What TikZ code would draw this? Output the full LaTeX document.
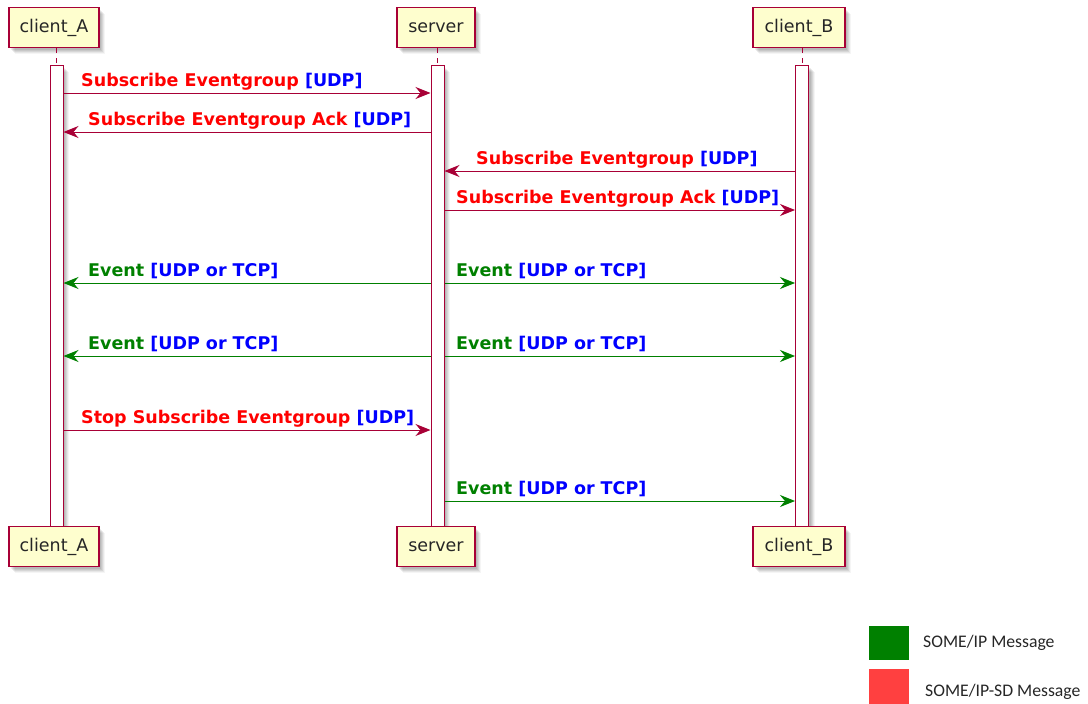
\documentclass[tikz,border=0pt]{standalone}
\usepackage{fontspec}
\setmainfont{DejaVu Sans}
\newfontfamily\legendfont{Carlito}
\usetikzlibrary{arrows.meta,shadows}
\definecolor{seqline}{HTML}{A80036}
\definecolor{partfill}{HTML}{FEFECE}
\definecolor{sdred}{HTML}{FF0000}
\definecolor{protoblue}{HTML}{0000FF}
\definecolor{evgreen}{HTML}{008000}
\definecolor{legendgreen}{HTML}{008000}
\definecolor{legendred}{HTML}{FF4040}
\begin{document}
\begin{tikzpicture}[x=1pt,y=-1pt,
  % soft shadow built from a few stacked, faint offsets
  softshadow/.style={
    drop shadow={shadow xshift=2pt,shadow yshift=-2pt,fill=black,opacity=.07},
    drop shadow={shadow xshift=3pt,shadow yshift=-3pt,fill=black,opacity=.07},
    drop shadow={shadow xshift=4pt,shadow yshift=-4pt,fill=black,opacity=.07},
    drop shadow={shadow xshift=5pt,shadow yshift=-5pt,fill=black,opacity=.06},
    drop shadow={shadow xshift=6pt,shadow yshift=-6pt,fill=black,opacity=.04}},
  partbox/.style={draw=seqline,fill=partfill,line width=1.5pt,minimum height=40pt,
    inner sep=0pt,font=\fontsize{17.5}{20}\selectfont,text=black!85,softshadow},
  actbar/.style={draw=seqline,fill=white,line width=1pt,minimum width=13pt,
    minimum height=461pt,inner sep=0pt,anchor=north,softshadow},
  lifeline/.style={draw=seqline,line width=1pt,dash pattern=on 5pt off 5pt},
  sdmsg/.style={draw=seqline,line width=1pt,-{Stealth[length=15pt,width=12pt,inset=5pt]}},
  evmsg/.style={draw=evgreen,line width=1pt,-{Stealth[length=15pt,width=12pt,inset=5pt]}},
  msglabel/.style={anchor=base west,inner sep=0pt,font=\fontsize{17.5}{20}\selectfont\bfseries},
  legendsq/.style={fill=#1,draw=none,minimum width=40pt,inner sep=0pt},
  legendtext/.style={anchor=west,inner sep=0pt,font=\legendfont\fontsize{17.7}{20}\selectfont,text=black!85},
]
\useasboundingbox (0,0) rectangle (1088,704);

% activation bars
\node[actbar] (barA) at (56.5,65) {};
\node[actbar] (barS) at (437.5,65) {};
\node[actbar] (barB) at (802,65) {};

% participants, top and bottom
\node[partbox,minimum width=90pt] (topA) at (54,27.5) {client\_A};
\node[partbox,minimum width=78pt] (topS) at (436,27.5) {server};
\node[partbox,minimum width=92pt] (topB) at (799,27.5) {client\_B};
\node[partbox,minimum width=90pt] (botA) at (54,546.5) {client\_A};
\node[partbox,minimum width=78pt] (botS) at (436,546.5) {server};
\node[partbox,minimum width=92pt] (botB) at (799,546.5) {client\_B};

% lifeline stubs above the bars
\draw[lifeline] (barA.north |- topA.south) -- (barA.north);
\draw[lifeline] (barS.north |- topS.south) -- (barS.north);
\draw[lifeline] (barB.north |- topB.south) -- (barB.north);

% message rows
\coordinate (m1) at (0,93);
\coordinate (m2) at (0,132);
\coordinate (m3) at (0,171);
\coordinate (m4) at (0,210);
\coordinate (m5) at (0,283);
\coordinate (m6) at (0,356);
\coordinate (m7) at (0,430);
\coordinate (m8) at (0,501);

\draw[sdmsg] (barA.east |- m1) -- (barS.west |- m1);
\node[msglabel] (l1) at (81,86.5) {\textcolor{sdred}{Subscribe Eventgroup} \textcolor{protoblue}{[UDP]}};

\draw[sdmsg] (barS.west |- m2) -- (barA.east |- m2);
\node[msglabel] (l2) at (88,125.5) {\textcolor{sdred}{Subscribe Eventgroup Ack} \textcolor{protoblue}{[UDP]}};

\draw[sdmsg] (barB.west |- m3) -- (barS.east |- m3);
\node[msglabel] (l3) at (476,164.5) {\textcolor{sdred}{Subscribe Eventgroup} \textcolor{protoblue}{[UDP]}};

\draw[sdmsg] (barS.east |- m4) -- (barB.west |- m4);
\node[msglabel] (l4) at (456,203.5) {\textcolor{sdred}{Subscribe Eventgroup Ack} \textcolor{protoblue}{[UDP]}};

\draw[evmsg] (barS.west |- m5) -- (barA.east |- m5);
\node[msglabel] (l5a) at (88,276.5) {\textcolor{evgreen}{Event} \textcolor{protoblue}{[UDP or TCP]}};
\draw[evmsg] (barS.east |- m5) -- (barB.west |- m5);
\node[msglabel] (l5b) at (456,276.5) {\textcolor{evgreen}{Event} \textcolor{protoblue}{[UDP or TCP]}};

\draw[evmsg] (barS.west |- m6) -- (barA.east |- m6);
\node[msglabel] (l6a) at (88,349.5) {\textcolor{evgreen}{Event} \textcolor{protoblue}{[UDP or TCP]}};
\draw[evmsg] (barS.east |- m6) -- (barB.west |- m6);
\node[msglabel] (l6b) at (456,349.5) {\textcolor{evgreen}{Event} \textcolor{protoblue}{[UDP or TCP]}};

\draw[sdmsg] (barA.east |- m7) -- (barS.west |- m7);
\node[msglabel] (l7) at (81,423.5) {\textcolor{sdred}{Stop Subscribe Eventgroup} \textcolor{protoblue}{[UDP]}};

\draw[evmsg] (barS.east |- m8) -- (barB.west |- m8);
\node[msglabel] (l8) at (456,494.5) {\textcolor{evgreen}{Event} \textcolor{protoblue}{[UDP or TCP]}};

% legend
\node[legendsq=legendgreen,minimum height=34pt] (keyIP) at (889,643) {};
\node[legendtext] (keyIPtext) at (923,643) {SOME/IP Message};
\node[legendsq=legendred,minimum height=35pt] (keySD) at (889,686.5) {};
\node[legendtext] (keySDtext) at (925,692) {SOME/IP-SD Message};
\end{tikzpicture}
\end{document}
